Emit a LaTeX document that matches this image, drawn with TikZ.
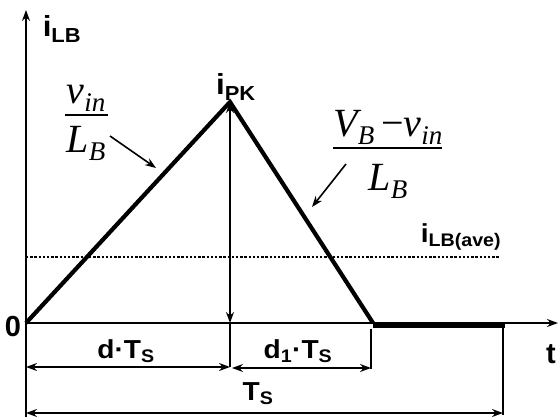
\documentclass[tikz,border=0pt]{standalone}
\usepackage{fontspec}
\setmainfont{Liberation Sans}
\newfontfamily\tmsfont{Liberation Serif}
\usetikzlibrary{arrows.meta}
\newcommand{\wide}[1]{\scalebox{1.08}[1]{#1}}
\newcommand{\isub}[2]{#1\raisebox{-8pt}{\fontsize{27}{27}\selectfont #2}}

\begin{document}
\begin{tikzpicture}[>={Stealth[length=11pt,width=8pt]}, x=1pt, y=-1pt,
  axis/.style={line width=1.4pt},
  wave/.style={line width=4.2pt, line join=miter},
  dim/.style={<->, line width=1.3pt},
  lbl/.style={font=\fontsize{26}{28}\selectfont\bfseries},
  biglbl/.style={font=\fontsize{29}{31}\selectfont\bfseries},
  frac/.style={font=\fontsize{40}{44}\selectfont\tmsfont\itshape, inner sep=0pt, anchor=base}]
  \useasboundingbox (0,0) rectangle (560,420);
  % axes
  \coordinate (O) at (26,323);
  \coordinate (ytop) at (26,10);
  \coordinate (ybot) at (26,417);
  \coordinate (xend) at (558,323);
  \draw[axis, ->] (ybot) -- (ytop);
  \draw[axis, ->] (O) -- (xend);
  \node[biglbl] (ilb) at (62,29) {\wide{i\textsubscript{LB}}};
  \node[biglbl] (zero) at (13,327) {0};
  \node[biglbl] (tlbl) at (551,354) {t};

  % inductor current
  \coordinate (peak) at (230,102);
  \coordinate (pkfoot) at (230,323);
  \coordinate (tend) at (373,323);
  \coordinate (flatend) at (505,323);
  \draw[wave] (O) -- (peak) -- (tend);
  \draw[line width=5.5pt] ([yshift=-2pt]tend) -- ([yshift=-2pt]flatend);
  \node[biglbl] (ipk) at (236,87) {\wide{i\textsubscript{PK}}};

  % average
  \coordinate (aveL) at (26,257);
  \coordinate (aveR) at (500,257);
  \draw[line width=2.4pt, dash pattern=on 2.4pt off 1.8pt] (aveL) -- (aveR);
  \node[lbl] (iave) at (461,237) {\wide{i\textsubscript{LB(ave)}}};

  % slopes
  \node[frac] (upnum) at (86,103) {\isub{v}{in}};
  \node[frac] (upden) at (86,152) {\isub{L}{B}};
  \draw[line width=1.5pt] (65,115) -- (108,115);
  \node[frac] (dnnum) at (388,136) {\isub{V}{B}\,{\upshape −}\isub{v}{in}};
  \node[frac] (dnden) at (388,190) {\isub{L}{B}};
  \draw[line width=1.5pt] (333,148) -- (442,148);
  \coordinate (upA) at (110,136);
  \coordinate (upB) at (156,168);
  \coordinate (dnA) at (346,164);
  \coordinate (dnB) at (312,207);
  \draw[->, line width=1.6pt] (upA) -- (upB);
  \draw[->, line width=1.6pt] (dnA) -- (dnB);

  % peak marker
  \draw[dim] (peak) -- (pkfoot);

  % time intervals
  \coordinate (dTick) at (230,367);
  \coordinate (d1Top) at (371,329);
  \coordinate (d1Bot) at (371,369);
  \coordinate (tsTop) at (503,323);
  \coordinate (tsBot) at (503,415);
  \draw[line width=1.3pt] (pkfoot) -- (dTick);
  \draw[line width=1.3pt] (d1Top) -- (d1Bot);
  \draw[line width=1.3pt] (tsTop) -- (tsBot);
  \draw[dim] (26,367) -- (dTick);
  \draw[dim] (232,368) -- (371,368);
  \draw[dim] (26,413) -- (503,413);
  \node[lbl] (dts) at (126,351) {\wide{d·T\textsubscript{S}}};
  \node[lbl] (d1ts) at (298,351) {\wide{d\textsubscript{1}·T\textsubscript{S}}};
  \node[lbl] (ts) at (258,394) {\wide{T\textsubscript{S}}};
\end{tikzpicture}
\end{document}
